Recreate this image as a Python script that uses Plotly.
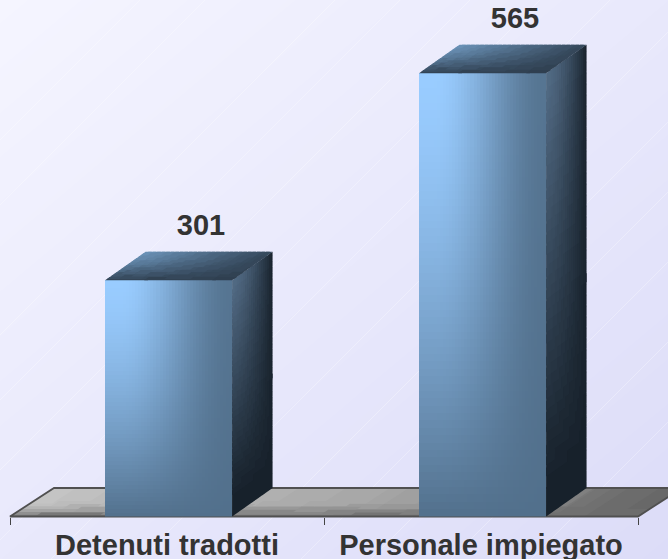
import numpy as np
import plotly.graph_objects as go

categories = ["Detenuti tradotti", "Personale impiegato"]
values = [301, 565]

PX_X = 314.0
PX_Y = 0.7845
ORIGIN_PX = 516.5
BAR_W = 127 / PX_X
DEPTH_X = 40.5 / PX_X
DEPTH_Y = 28.5 / PX_Y
FLOOR_DX = 44 / PX_X
LABEL_DX = 32.5 / PX_X
LABEL_DY = 67
BAR_OFFSET = 0.505
X_RANGE = [-10 / PX_X, 658 / PX_X]
Y_TOP = ORIGIN_PX / PX_Y
Y_BOT = -(559 - ORIGIN_PX) / PX_Y
STREAKS_PX = [140, 205, 335, 400, 470, 540, 610, 700, 790, 860, 930, 1010, 1090]


def lerp(c1, c2, t):
    t = min(1.0, max(0.0, t))
    return tuple(a + (b - a) * t for a, b in zip(c1, c2))


def rgb(c):
    return "rgb(%d,%d,%d)" % tuple(round(x) for x in c)


def smooth(t):
    t = min(1.0, max(0.0, t))
    return t * t * (3 - 2 * t)


def front_t(u, v):
    a = smooth((u - 0.12) / 0.88) * 0.95
    b = (1 - v) ** 1.5
    return 1 - (1 - a) * (1 - b)


def side_t(u, v):
    a = u ** 1.5
    b = min(1.0, (1 - v) * 1.1)
    return 1 - (1 - a) * (1 - b)


def top_t(u, w):
    a = u * 0.9
    b = (1 - w) ** 1.6
    return 1 - (1 - a) * (1 - b)


FLOOR_STOPS = [(0, 195), (0.45, 172), (0.75, 150), (0.9, 112), (1, 104)]


def floor_c(u, w):
    g = float(np.interp(u, [s[0] for s in FLOOR_STOPS], [s[1] for s in FLOOR_STOPS]))
    d = max(0.0, 1 - w / 0.5) ** 1.5
    g = g + (110 - g) * d
    return (g, g, g)


def quad_traces(corner, colfun, nu, nv, xa, ya):
    """Draw a bilinear face as slightly overlapping quads, grouped by colour."""
    groups = {}
    eu, ev = 0.4 / nu, 0.4 / nv
    for i in range(nu):
        for j in range(nv):
            u0, u1 = max(0, i / nu - eu), min(1, (i + 1) / nu + eu)
            v0, v1 = max(0, j / nv - ev), min(1, (j + 1) / nv + ev)
            col = colfun((i + 0.5) / nu, (j + 0.5) / nv)
            g = groups.setdefault(col, ([], []))
            for p in ((u0, v0), (u1, v0), (u1, v1), (u0, v1), (u0, v0)):
                x, y = corner(*p)
                g[0].append(x)
                g[1].append(y)
            g[0].append(None)
            g[1].append(None)
    out = []
    for col, (xs, ys) in groups.items():
        out.append(go.Scatter(x=xs, y=ys, mode="lines", fill="toself", fillcolor=col,
                              line=dict(color=col, width=0), xaxis=xa, yaxis=ya,
                              hoverinfo="skip", showlegend=False))
    return out


def level_colour(tfun, c0, c1, levels=32):
    return lambda u, v: rgb(lerp(c0, c1, round(tfun(u, v) * levels) / levels))


fig = go.Figure()

# page background
bx = np.linspace(X_RANGE[0], X_RANGE[1], 12)
by = np.linspace(Y_BOT, Y_TOP, 12)
bz = [[(x - X_RANGE[0]) / (X_RANGE[1] - X_RANGE[0]) * 0.5 + (Y_TOP - y) / (Y_TOP - Y_BOT) * 0.5 for x in bx] for y in by]
fig.add_trace(go.Heatmap(x=bx, y=by, z=bz, zsmooth="best", showscale=False, hoverinfo="skip",
                         colorscale=[[0, "#f5f5ff"], [1, "#dcdcf8"]], xaxis="x", yaxis="y"))

# faint diagonal streaks of the background
sx, sy = [], []
for c in STREAKS_PX:
    sx += [X_RANGE[0], X_RANGE[0] + c / PX_X, None]
    sy += [Y_TOP - c / PX_Y, Y_TOP, None]
fig.add_trace(go.Scatter(x=sx, y=sy, mode="lines", line=dict(color="rgba(255,255,255,0.3)", width=1),
                         xaxis="x", yaxis="y", hoverinfo="skip", showlegend=False))

# floor
floor_right = len(values)


def floor_corner(u, w):
    return (u * floor_right + w * FLOOR_DX, w * DEPTH_Y)


def floor_colour(u, w):
    return rgb(tuple(round(c / 4) * 4 for c in floor_c(u, w)))


for tr in quad_traces(floor_corner, floor_colour, 40, 10, "x", "y"):
    fig.add_trace(tr)
fig.add_trace(go.Scatter(x=[floor_right + FLOOR_DX, FLOOR_DX, 0, floor_right, floor_right + FLOOR_DX],
                         y=[DEPTH_Y, DEPTH_Y, 0, 0, DEPTH_Y], mode="lines",
                         line=dict(color="#505050", width=1.8), xaxis="x", yaxis="y",
                         hoverinfo="skip", showlegend=False))

# bars
NX, NY = 42, 60
FRONT_LIGHT = (153, 204, 255)
FRONT_DARK = (82, 112, 140)
SIDE_LIGHT = (82, 107, 133)
SIDE_DARK = (23, 33, 43)
TOP_LIGHT = (107, 147, 184)
TOP_DARK = (47, 63, 80)

for idx, val in enumerate(values):
    cx = idx + BAR_OFFSET
    left = cx - BAR_W / 2
    right = cx + BAR_W / 2
    xs, ys, bases, cols = [], [], [], []
    for i in range(NX):
        for j in range(NY):
            u = (i + 0.5) / NX
            v = (j + 0.5) / NY
            xs.append(left + u * BAR_W)
            ys.append(val / NY)
            bases.append(j * val / NY)
            cols.append(rgb(lerp(FRONT_LIGHT, FRONT_DARK, front_t(u, v))))
    fig.add_trace(go.Bar(x=xs, y=ys, base=bases, width=BAR_W / NX, xaxis="x2", yaxis="y2",
                         marker=dict(color=cols, line=dict(width=0)), hoverinfo="skip",
                         showlegend=False))

    def side_corner(u, v, right=right, val=val):
        return (right + u * DEPTH_X, v * val + u * DEPTH_Y)

    def top_corner(u, w, left=left, val=val):
        return (left + u * BAR_W + w * DEPTH_X, val + w * DEPTH_Y)

    for tr in quad_traces(side_corner, level_colour(side_t, SIDE_LIGHT, SIDE_DARK), 20, 40, "x2", "y2"):
        fig.add_trace(tr)
    for tr in quad_traces(top_corner, level_colour(top_t, TOP_LIGHT, TOP_DARK), 28, 12, "x2", "y2"):
        fig.add_trace(tr)

# value labels
fig.add_trace(go.Scatter(x=[i + BAR_OFFSET + LABEL_DX for i in range(len(values))],
                         y=[v + LABEL_DY for v in values],
                         text=[str(v) for v in values], mode="text", textposition="middle center",
                         textfont=dict(family="Liberation Sans", size=29, color="#333333", weight="bold"),
                         xaxis="x2", yaxis="y2", hoverinfo="skip", showlegend=False, cliponaxis=False))

fig.update_layout(
    width=668, height=559, margin=dict(l=0, r=0, t=0, b=0, autoexpand=False),
    paper_bgcolor="#e8e8fc", plot_bgcolor="rgba(0,0,0,0)", showlegend=False, barmode="overlay",
    bargap=0,
    xaxis=dict(domain=[0, 1], range=X_RANGE, visible=False, fixedrange=True, automargin=False),
    yaxis=dict(domain=[0, 1], range=[Y_BOT, Y_TOP], visible=False, fixedrange=True, automargin=False),
    xaxis2=dict(domain=[0, 1], range=X_RANGE, anchor="y2", showgrid=False, zeroline=False, showline=False,
                automargin=False,
                tickmode="array", tickvals=[i + 0.5 for i in range(len(categories))], ticktext=categories,
                ticks="", ticklabelstandoff=8,
                tickfont=dict(family="Liberation Sans", size=29, color="#333333", weight="bold"),
                minor=dict(tickmode="array", tickvals=list(range(len(categories) + 1)), ticks="outside",
                           ticklen=7, tickwidth=1, tickcolor="#444444", showgrid=False),
                fixedrange=True),
    yaxis2=dict(domain=[(559 - ORIGIN_PX) / 559, 1], range=[0, Y_TOP], anchor="x2", visible=False,
                fixedrange=True, automargin=False),
)

fig.write_html("out.html", config=dict(displayModeBar=False),
               post_script="document.body.style.margin='0';document.documentElement.style.overflow='hidden';")
